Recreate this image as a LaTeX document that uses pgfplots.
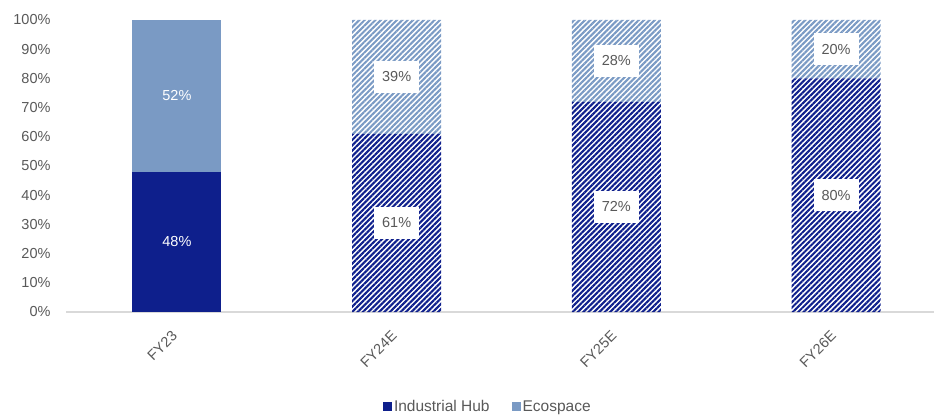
\documentclass[border=0pt]{standalone}
\usepackage{pgfplots}
\pgfplotsset{compat=1.18}
\usetikzlibrary{patterns.meta}
\usepackage{fontspec}
\setmainfont{Liberation Sans}
\definecolor{navy}{HTML}{0E1F8C}
\definecolor{light}{HTML}{7A9AC4}
\definecolor{txt}{HTML}{595959}
\definecolor{axl}{HTML}{D9D9D9}
\begin{document}
\begin{tikzpicture}[font=\fontsize{14.5bp}{17bp}\selectfont]
\useasboundingbox (-66bp,-105bp) rectangle (868bp,312bp);
\begin{axis}[
  at={(0,0)}, anchor=south west, scale only axis,
  width=868bp, height=292bp,
  ybar stacked, bar width=89bp,
  xmin=-0.505, xmax=3.446, ymin=0, ymax=100,
  xtick={0,1,2,3}, xticklabels={FY23,FY24E,FY25E,FY26E},
  ytick={0,10,...,100}, yticklabel={\pgfmathprintnumber{\tick}\%},
  /pgf/number format/assume math mode=true,
  axis x line*=bottom, axis y line*=left,
  y axis line style={draw=none},
  x axis line style={axl, line width=1.2bp},
  major tick length=0,
  tick label style={text=txt},
  yticklabel style={xshift=-12bp},
  xticklabel style={yshift=-19bp, rotate=45, anchor=east},
  legend style={at={(0.486,-0.325)}, anchor=center, draw=none, legend columns=2,
    /tikz/every even column/.append style={column sep=20bp}, text=txt, font=\fontsize{15.5bp}{18bp}\selectfont},
  legend image code/.code={\fill[#1] (0bp,-4.5bp) rectangle (9bp,4.5bp);},
  clip=false,
]
\addplot[fill=navy, draw=none] coordinates {(0,48) (1,0) (2,0) (3,0)};
\addlegendentry{Industrial Hub}
\addplot[draw=none, forget plot, pattern={Lines[angle=45,distance=3.8bp,line width=2.1bp]}, pattern color=navy] coordinates {(0,0) (1,61) (2,72) (3,80)};
\addplot[fill=light, draw=none] coordinates {(0,52) (1,0) (2,0) (3,0)};
\addlegendentry{Ecospace}
\addplot[draw=none, forget plot, pattern={Lines[angle=45,distance=3.8bp,line width=2.1bp]}, pattern color=light] coordinates {(0,0) (1,39) (2,28) (3,20)};
\coordinate (a1) at (axis cs:0,24);
\coordinate (a2) at (axis cs:0,74);
\coordinate (b1) at (axis cs:1,30.5);
\coordinate (b2) at (axis cs:1,80.5);
\coordinate (c1) at (axis cs:2,36);
\coordinate (c2) at (axis cs:2,86);
\coordinate (d1) at (axis cs:3,40);
\coordinate (d2) at (axis cs:3,90);
\end{axis}
\tikzset{lbl/.style={fill=white, text=txt, inner sep=0pt, minimum width=45bp, minimum height=32bp}}
\node[text=white] at (a1) {48\%};
\node[text=white] at (a2) {52\%};
\node[lbl] at (b1) {61\%};
\node[lbl] at (b2) {39\%};
\node[lbl] at (c1) {72\%};
\node[lbl] at (c2) {28\%};
\node[lbl] at (d1) {80\%};
\node[lbl] at (d2) {20\%};
\end{tikzpicture}
\end{document}
